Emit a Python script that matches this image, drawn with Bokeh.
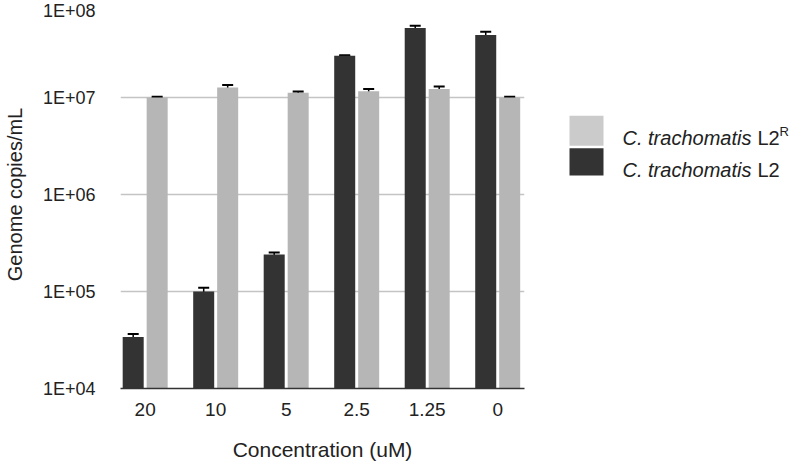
import numpy as np
from bokeh.plotting import figure
from bokeh.models import (ColumnDataSource, Range1d, FixedTicker, CustomJSTickFormatter,
                          Whisker, TeeHead)
from bokeh.layouts import row
from bokeh.core.properties import value
from bokeh.embed import file_html
from bokeh.resources import INLINE

# ---- data ----
concentrations = ["20", "10", "5", "2.5", "1.25", "0"]
l2_values = [3.4e4, 1.0e5, 2.4e5, 2.7e7, 5.2e7, 4.4e7]
l2_errors = [2.5e3, 9e3, 1.3e4, 3e5, 3e6, 3.5e6]
l2r_values = [1.0e7, 1.27e7, 1.12e7, 1.16e7, 1.22e7, 1.0e7]
l2r_errors = [2e5, 7.5e5, 3e5, 6e5, 8e5, 2e5]
y_ticks = [1e4, 1e5, 1e6, 1e7, 1e8]

DARK = "#333333"
LIGHT = "#b6b6b6"
LIGHT_LEG = "#cbcbcb"
TXT = "#222222"
FONT = "Liberation Sans"

idx = np.arange(len(concentrations))
off = 0.17
bw = 0.298

src_l2 = ColumnDataSource(dict(
    x=idx - off, top=l2_values,
    upper=[v + e for v, e in zip(l2_values, l2_errors)],
    lower=[v - e for v, e in zip(l2_values, l2_errors)]))
src_l2r = ColumnDataSource(dict(
    x=idx + off, top=l2r_values,
    upper=[v + e for v, e in zip(l2r_values, l2r_errors)],
    lower=[v - e for v, e in zip(l2r_values, l2r_errors)]))

p = figure(frame_width=404, frame_height=388, y_axis_type="log",
           x_range=Range1d(-0.35, 5.38), y_range=Range1d(y_ticks[0], y_ticks[-1]),
           output_backend="svg", toolbar_location=None,
           min_border_left=115, min_border_right=16, min_border_top=0, min_border_bottom=0)
p.outline_line_color = None
p.background_fill_color = "white"
p.border_fill_color = "white"

p.vbar(x="x", top="top", bottom=y_ticks[0], width=bw, source=src_l2,
       fill_color=DARK, line_color=None)
p.vbar(x="x", top="top", bottom=y_ticks[0], width=bw, source=src_l2r,
       fill_color=LIGHT, line_color=None)

for src in (src_l2, src_l2r):
    w = Whisker(source=src, base="x", upper="upper", lower="lower",
                line_color="black", line_width=1.5,
                upper_head=TeeHead(size=11, line_color="black", line_width=2),
                lower_head=TeeHead(size=11, line_color="black", line_width=2))
    p.add_layout(w)

# y axis
p.yaxis.ticker = FixedTicker(ticks=y_ticks, minor_ticks=[])
p.yaxis.formatter = CustomJSTickFormatter(code="""
    const e = Math.round(Math.log10(tick));
    return "1E+" + String(e).padStart(2, "0");
""")
p.yaxis.axis_line_color = None
p.yaxis.major_tick_line_color = None
p.yaxis.minor_tick_line_color = None
p.yaxis.major_tick_out = 0
p.yaxis.major_tick_in = 0
p.yaxis.major_label_standoff = 25
p.yaxis.major_label_text_font = FONT
p.yaxis.major_label_text_font_size = "18px"
p.yaxis.major_label_text_color = TXT
p.yaxis.axis_label = "Genome copies/mL"
p.yaxis.axis_label_text_font = FONT
p.yaxis.axis_label_text_font_size = "20px"
p.yaxis.axis_label_text_font_style = "normal"
p.yaxis.axis_label_text_color = TXT
p.yaxis.axis_label_standoff = 14

# x axis
p.xaxis.ticker = FixedTicker(ticks=list(idx), minor_ticks=[])
p.xaxis.formatter = CustomJSTickFormatter(args=dict(labels=concentrations),
                                          code="return labels[Math.round(tick)];")
p.xaxis.axis_line_color = DARK
p.xaxis.axis_line_width = 1.5
p.xaxis.major_tick_line_color = None
p.xaxis.minor_tick_line_color = None
p.xaxis.major_tick_out = 0
p.xaxis.major_tick_in = 0
p.xaxis.major_label_standoff = 14
p.xaxis.major_label_text_font = FONT
p.xaxis.major_label_text_font_size = "19px"
p.xaxis.major_label_text_color = TXT
p.xaxis.axis_label = "Concentration (uM)"
p.xaxis.axis_label_text_font = FONT
p.xaxis.axis_label_text_font_size = "21px"
p.xaxis.axis_label_text_font_style = "normal"
p.xaxis.axis_label_text_color = TXT
p.xaxis.axis_label_standoff = 19

p.xgrid.grid_line_color = None
p.ygrid.grid_line_color = "#c4c4c4"
p.ygrid.grid_line_width = 1.5

# ---- legend panel (separate figure, pixel coordinates, y downward) ----
LW = 784 - 535
LH = 440
leg = figure(width=LW, height=LH, x_range=Range1d(0, LW), y_range=Range1d(LH, 0),
             output_backend="svg", toolbar_location=None,
             min_border=0, min_border_left=0, min_border_right=0,
             min_border_top=0, min_border_bottom=0)
leg.axis.visible = False
leg.grid.visible = False
leg.outline_line_color = None
leg.background_fill_color = "white"
leg.border_fill_color = "white"

# swatches
leg.quad(left=[29, 29], right=[63, 63], top=[139, 178], bottom=[175, 211],
         fill_color=[LIGHT_LEG, DARK], line_color=None)
# texts
leg.text(x=[82, 82], y=[166, 204], text=["C. trachomatis", "C. trachomatis"],
         text_font=value(FONT), text_font_size="20px", text_font_style="italic",
         text_color=TXT, text_baseline="alphabetic", text_align="left")
leg.text(x=[217, 217], y=[166, 204], text=["L2", "L2"],
         text_font=value(FONT), text_font_size="20px",
         text_color=TXT, text_baseline="alphabetic", text_align="left")
leg.text(x=[239], y=[158], text=["R"],
         text_font=value(FONT), text_font_size="13px",
         text_color=TXT, text_baseline="alphabetic", text_align="left")

layout = row(p, leg, spacing=0)
open("out.html", "w").write(file_html(layout, INLINE))
